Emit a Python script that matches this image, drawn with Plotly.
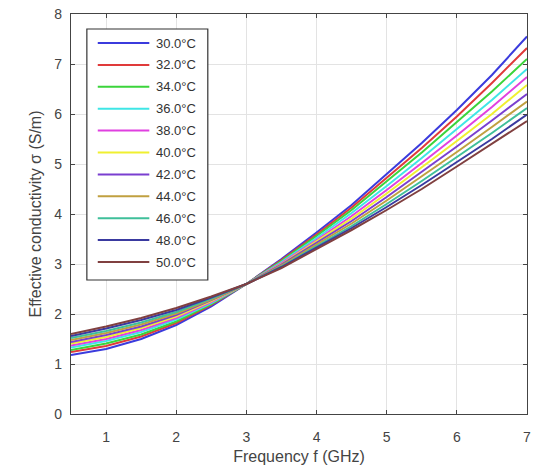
import plotly.graph_objects as go

freq = [0.5, 1.0, 1.5, 2.0, 2.5, 3.0, 3.5, 4.0, 4.5, 5.0, 5.5, 6.0, 6.5, 7.0]

temps = ["30.0°C", "32.0°C", "34.0°C", "36.0°C", "38.0°C", "40.0°C",
         "42.0°C", "44.0°C", "46.0°C", "48.0°C", "50.0°C"]

s30 = [1.18, 1.30, 1.50, 1.78, 2.15, 2.60, 3.10, 3.63, 4.18, 4.80, 5.42, 6.08, 6.78, 7.55]
s32 = [1.24, 1.36, 1.55, 1.82, 2.18, 2.60, 3.08, 3.59, 4.13, 4.72, 5.32, 5.95, 6.62, 7.32]
s34 = [1.28, 1.41, 1.59, 1.85, 2.20, 2.60, 3.06, 3.56, 4.08, 4.65, 5.23, 5.84, 6.45, 7.10]
s36 = [1.33, 1.46, 1.64, 1.89, 2.22, 2.60, 3.04, 3.52, 4.02, 4.56, 5.12, 5.70, 6.28, 6.90]
s38 = [1.37, 1.50, 1.68, 1.92, 2.24, 2.60, 3.02, 3.48, 3.96, 4.48, 5.02, 5.57, 6.14, 6.74]
s40 = [1.41, 1.54, 1.72, 1.95, 2.26, 2.60, 3.00, 3.45, 3.91, 4.41, 4.93, 5.46, 6.00, 6.58]
s42 = [1.44, 1.58, 1.75, 1.98, 2.28, 2.60, 2.99, 3.42, 3.86, 4.34, 4.84, 5.35, 5.87, 6.40]
s44 = [1.48, 1.62, 1.79, 2.01, 2.29, 2.60, 2.97, 3.39, 3.81, 4.27, 4.75, 5.24, 5.74, 6.25]
s46 = [1.52, 1.66, 1.83, 2.04, 2.31, 2.60, 2.95, 3.36, 3.76, 4.20, 4.66, 5.14, 5.62, 6.12]
s48 = [1.56, 1.71, 1.88, 2.08, 2.33, 2.60, 2.94, 3.33, 3.72, 4.14, 4.58, 5.04, 5.50, 5.99]
s50 = [1.60, 1.75, 1.92, 2.12, 2.35, 2.60, 2.92, 3.30, 3.68, 4.08, 4.50, 4.95, 5.40, 5.86]

series = [s30, s32, s34, s36, s38, s40, s42, s44, s46, s48, s50]

colors = ["#3b3bdd", "#e03a3a", "#3bd43b", "#3fe6e6", "#e040e0", "#f0f030",
          "#7a3fd0", "#c0a040", "#3fbf9a", "#3a3aa0", "#804040"]

W, H = 534, 472
ML, MR, MT, MB = 71, 3, 14, 58
PW, PH = W - ML - MR, H - MT - MB


def px(x):
    return (x - ML) / PW


def py(y):
    return (H - MB - y) / PH


fig = go.Figure()
for name, ys, c in zip(temps, series, colors):
    fig.add_trace(go.Scatter(x=freq, y=ys, mode="lines", name=name,
                             showlegend=False,
                             line=dict(color=c, width=2)))

FONT = "Liberation Sans, Arial, sans-serif"

# custom legend (box, sample lines, labels)
shapes = [dict(type="rect", xref="paper", yref="paper",
               x0=px(87), x1=px(209), y0=py(280), y1=py(29),
               fillcolor="white", line=dict(color="#333", width=1.2), layer="above")]
annotations = []
for i, (name, c) in enumerate(zip(temps, colors)):
    yy = 43 + i * 21.9
    shapes.append(dict(type="line", xref="paper", yref="paper",
                       x0=px(98), x1=px(150), y0=py(yy), y1=py(yy),
                       line=dict(color=c, width=2), layer="above"))
    annotations.append(dict(xref="paper", yref="paper", x=px(155), y=py(yy),
                            xanchor="left", yanchor="middle", text=name,
                            showarrow=False,
                            font=dict(family=FONT, size=13, color="#333")))

axis_common = dict(showline=True, linecolor="#444", linewidth=1.2, mirror="ticks",
                   ticks="inside", ticklen=4, tickcolor="#444",
                   showgrid=True, gridcolor="#e3e3e3", gridwidth=1,
                   zeroline=False, ticklabeloverflow="allow",
                   tickfont=dict(family=FONT, size=14, color="#444"))

fig.update_layout(
    width=W, height=H,
    margin=dict(l=ML, r=MR, t=MT, b=MB),
    plot_bgcolor="white", paper_bgcolor="white",
    font=dict(family=FONT, size=13, color="#333"),
    showlegend=False,
    xaxis=dict(range=[0.5, 7], tickvals=[1, 2, 3, 4, 5, 6, 7],
               ticklabelstandoff=10,
               title=dict(text="Frequency f (GHz)", standoff=6,
                          font=dict(size=16, color="#444")),
               **axis_common),
    yaxis=dict(range=[0, 8], tickvals=[0, 1, 2, 3, 4, 5, 6, 7, 8],
               ticklabelstandoff=5,
               title=dict(text="Effective conductivity σ (S/m)", standoff=8,
                          font=dict(size=16, color="#444")),
               **axis_common),
    shapes=shapes,
    annotations=annotations,
)

fig.write_html("out.html")
